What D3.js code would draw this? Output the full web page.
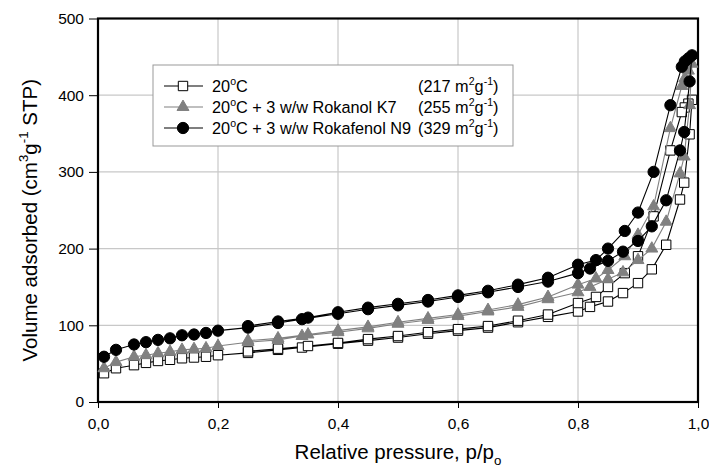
<!DOCTYPE html>
<html>
<head>
<meta charset="utf-8">
<script src="https://cdnjs.cloudflare.com/ajax/libs/d3/7.8.5/d3.min.js"></script>
<style>
body { margin: 0; background: #fff; }
svg { display: block; }
text { font-family: Arial, "Liberation Sans", sans-serif; fill: #000; }
</style>
</head>
<body>
<svg id="chart"></svg>
<script>
const WIDTH = 709;
const HEIGHT = 470;

// relative pressure of the adsorption and desorption points
const pAds = [0.01, 0.03, 0.06, 0.08, 0.10, 0.12, 0.14, 0.16, 0.18, 0.20, 0.25, 0.30, 0.34, 0.40, 0.45, 0.50,
              0.55, 0.60, 0.65, 0.70, 0.75, 0.80, 0.82, 0.85, 0.875, 0.90, 0.923, 0.947, 0.97, 0.977, 0.986, 0.99];
const pDes = [0.984, 0.978, 0.973, 0.954, 0.926, 0.90, 0.878, 0.85, 0.83, 0.80, 0.75, 0.70, 0.65, 0.60,
              0.55, 0.50, 0.45, 0.40, 0.35, 0.30, 0.25];

// volume adsorbed, cm3/g STP
const plainAds = [37.5, 44, 48, 51, 53.5, 55, 57, 58, 59, 61, 64, 68, 71, 76, 80, 84,
                  89, 93, 97, 104, 111, 118, 124, 131, 142, 155, 173, 205, 264, 286, 349, 394];
const plainDes = [389, 384, 378, 328, 242, 190, 168, 150, 137, 129, 114, 106, 99, 95,
                  91, 86, 82, 77, 73, 69.5, 66];

const k7Ads = [44, 52, 59, 61, 63.5, 65.5, 68, 69, 70, 73, 78, 81, 86, 91, 96, 102,
               107, 112, 118, 124, 134, 143, 150, 160, 169, 185, 200, 235, 298, 320, 387, 441];
const k7Des = [432, 422, 412, 357, 255, 218, 190, 172, 161, 153, 137, 127, 120, 114,
               109, 104, 98, 93, 88, 83, 80];

const n9Ads = [59, 68, 75, 78, 81, 83, 87, 88, 90, 93, 97, 103, 108, 115, 121, 126,
               131, 137, 143, 150, 157, 168, 174, 184, 196, 210, 229, 263, 328, 352, 418, 452];
const n9Des = [448, 444, 437, 387, 300, 247, 223, 200, 185, 179, 162, 153, 145, 139,
               133, 128, 123, 117, 110, 105, 99];

const xTicks = [0, 0.2, 0.4, 0.6, 0.8, 1.0];
const yTicks = [0, 100, 200, 300, 400, 500];

const legendNames = [
    [["20"], ["o", "sup"], ["C"]],
    [["20"], ["o", "sup"], ["C + 3 w/w Rokanol K7"]],
    [["20"], ["o", "sup"], ["C + 3 w/w Rokafenol N9"]]
];
const legendAreas = ["217", "255", "329"];

const series = [
    {ads: plainAds, des: plainDes, symbol: "square", line: "#000", fill: "#fff", stroke: "#000"},
    {ads: k7Ads, des: k7Des, symbol: "triangle", line: "#808080", fill: "#808080", stroke: "#808080"},
    {ads: n9Ads, des: n9Des, symbol: "circle", line: "#000", fill: "#000", stroke: "#000"}
];

const margin = {left: 98, top: 18.5, right: 11, bottom: 68};
const plotW = WIDTH - margin.left - margin.right;
const plotH = HEIGHT - margin.top - margin.bottom;

// text with super/subscript pieces
function addRich(textSel, parts, size) {
    let shift = 0;
    parts.forEach(([s, mode]) => {
        const target = mode === "sup" ? -0.42 * size : mode === "sub" ? 0.3 * size : 0;
        const ts = textSel.append("tspan").attr("dy", target - shift).text(s);
        if (mode) ts.attr("font-size", size * 0.65);
        shift = target;
    });
}

function symbolPath(kind) {
    if (kind === "square") return d3.symbol(d3.symbolSquare, 88)();
    if (kind === "triangle") return d3.symbol(d3.symbolTriangle, 62)();
    return d3.symbol(d3.symbolCircle, 100)();
}

function main() {
    const svg = d3.select("#chart").attr("width", WIDTH).attr("height", HEIGHT);

    const x = d3.scaleLinear().domain([0, 1]).range([0, plotW]);
    const y = d3.scaleLinear().domain([0, 500]).range([plotH, 0]);

    const g = svg.append("g").attr("transform", `translate(${margin.left},${margin.top})`);

    // grid
    g.append("g").selectAll("line")
        .data(yTicks.slice(1, -1))
        .join("line")
        .attr("x1", 0).attr("x2", plotW)
        .attr("y1", d => y(d)).attr("y2", d => y(d))
        .attr("stroke", "#c8c8c8").attr("stroke-width", 1.2);
    g.append("g").selectAll("line")
        .data(xTicks.slice(1, -1))
        .join("line")
        .attr("y1", 0).attr("y2", plotH)
        .attr("x1", d => x(d)).attr("x2", d => x(d))
        .attr("stroke", "#c8c8c8").attr("stroke-width", 1.2);

    const fmt = d3.format(".1f");
    const xAxis = g.append("g").attr("transform", `translate(0,${plotH})`)
        .call(d3.axisBottom(x).tickValues(xTicks).tickSize(6).tickPadding(10)
            .tickFormat(d => fmt(d).replace(".", ",")));
    const yAxis = g.append("g")
        .call(d3.axisLeft(y).tickValues(yTicks).tickSize(9).tickPadding(5));
    [xAxis, yAxis].forEach(a => {
        a.select(".domain").remove();
        a.selectAll("line").attr("stroke", "#000").attr("stroke-width", 1);
        a.selectAll("text").attr("font-size", 15.5).attr("font-family", "Arial, 'Liberation Sans', sans-serif");
    });

    // frame
    g.append("rect")
        .attr("width", plotW).attr("height", plotH)
        .attr("fill", "none").attr("stroke", "#000").attr("stroke-width", 2.2);

    // legend
    const leg = svg.append("g").attr("transform", "translate(153,65)");
    leg.append("rect").attr("width", 360).attr("height", 81)
        .attr("fill", "#fff").attr("stroke", "#999").attr("stroke-width", 1);

    const line = d3.line().x(d => x(d[0])).y(d => y(d[1]));

    series.forEach((s, i) => {
        const pts = pAds.map((p, j) => [p, s.ads[j]]).concat(pDes.map((p, j) => [p, s.des[j]]));
        const sg = g.append("g");
        sg.append("path").datum(pts)
            .attr("d", line).attr("fill", "none")
            .attr("stroke", s.line).attr("stroke-width", 1.1);
        sg.selectAll("path.pt").data(pts).join("path")
            .attr("class", "pt")
            .attr("transform", d => `translate(${x(d[0])},${y(d[1])})`)
            .attr("d", symbolPath(s.symbol))
            .attr("fill", s.fill).attr("stroke", s.stroke).attr("stroke-width", 1);

        const ry = 21 + i * 21;
        leg.append("line").attr("x1", 11).attr("x2", 50).attr("y1", ry).attr("y2", ry)
            .attr("stroke", s.line).attr("stroke-width", 1.1);
        leg.append("path").attr("transform", `translate(30,${ry})`)
            .attr("d", symbolPath(s.symbol))
            .attr("fill", s.fill).attr("stroke", s.stroke).attr("stroke-width", 1);
        const t1 = leg.append("text").attr("x", 59).attr("y", ry + 6).attr("font-size", 16.3);
        addRich(t1, legendNames[i], 16.3);
        const t2 = leg.append("text").attr("x", 265).attr("y", ry + 6).attr("font-size", 16.3);
        addRich(t2, [["(" + legendAreas[i] + " m"], ["2", "sup"], ["g"], ["-1", "sup"], [")"]], 16.3);
    });

    // axis titles
    const xt = svg.append("text")
        .attr("x", margin.left + plotW / 2).attr("y", 459)
        .attr("text-anchor", "middle").attr("font-size", 20.5);
    addRich(xt, [["Relative pressure, p/p"], ["o", "sub"]], 20.5);

    const yt = svg.append("text")
        .attr("transform", `translate(37,${margin.top + plotH / 2 + 10}) rotate(-90)`)
        .attr("text-anchor", "middle").attr("font-size", 20.5);
    addRich(yt, [["Volume adsorbed (cm"], ["3", "sup"], ["g"], ["-1", "sup"], [" STP)"]], 20.5);
}

main();
</script>
</body>
</html>
